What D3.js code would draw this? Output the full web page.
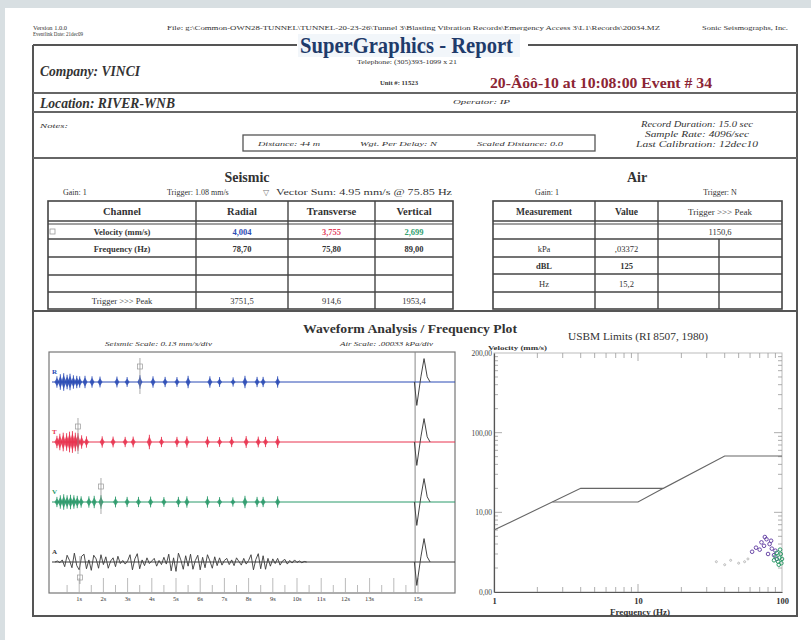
<!DOCTYPE html>
<html>
<head>
<meta charset="utf-8">
<script src="https://cdn.jsdelivr.net/npm/d3@7"></script>
<style>
  body { margin: 0; background: #fff; }
  svg { display: block; }
</style>
</head>
<body>
<script>
// ********************** DATA **********************
var seismicHeaders = ["Channel", "Radial", "Transverse", "Vertical"];
var velocityValues = ["4,004", "3,755", "2,699"];
var frequencyValues = ["78,70", "75,80", "89,00"];
var triggerPeakValues = ["3751,5", "914,6", "1953,4"];
var airHeaders = ["Measurement", "Value", "Trigger >>> Peak"];
var airTriggerPeak = "1150,6";
var airUnits = ["kPa", "dBL", "Hz"];
var airValues = [",03372", "125", "15,2"];

var channels = ["R", "T", "V", "A"];
// bursts on the geophone traces: [time (s), amplitude]
var rBursts = [[0.08,1.6],[0.22,2.4],[0.36,2.8],[0.5,2.2],[0.62,2.6],[0.76,2.0],[0.9,1.8],[1.02,1.6],[1.24,1.8],[1.53,1.6],[1.86,1.5],[2.56,1.5],[2.98,1.3],[3.51,2.0],[4.05,1.6],[4.55,1.4],[5.04,1.3],[5.5,1.8],[6.4,1.6],[6.8,1.3],[7.36,1.2],[7.85,1.8],[8.35,1.4],[8.6,1.4],[9.2,1.6]];
var tBursts = [[0.08,1.8],[0.2,2.6],[0.34,3.0],[0.48,2.8],[0.6,3.4],[0.72,3.6],[0.84,3.0],[0.95,2.8],[1.1,2.0],[1.3,1.6],[1.95,1.6],[2.4,1.5],[2.9,1.4],[3.23,1.5],[3.9,2.2],[4.4,1.4],[5.04,1.4],[5.45,1.6],[6.3,1.5],[6.8,1.3],[7.3,1.4],[7.9,1.7],[8.4,1.5],[8.7,1.4],[9.2,1.7]];
var vBursts = [[0.08,1.4],[0.22,2.0],[0.36,2.4],[0.5,2.0],[0.64,2.2],[0.78,2.0],[0.92,1.8],[1.08,1.6],[1.4,1.6],[1.62,1.8],[1.9,2.0],[2.5,1.5],[2.98,1.4],[3.45,1.4],[3.95,1.5],[4.5,1.3],[5.1,1.4],[5.45,1.6],[6.3,1.6],[6.8,1.3],[7.35,1.2],[7.85,1.8],[8.35,1.4],[8.6,1.4],[9.2,1.6]];
// microphone trace, one sample every 0.1 s from 0 s
var airTrace = [0,0.4,-0.3,0.8, -1.8,2.6,0.6,-2.2,
  3.4,-1.4,-3.0,2.2,3.0,-2.6,0.8,-3.2,2.6,1.2,-2.4,2.8,
  -1.0,2.0,-2.4,0.4,1.6,-1.8,2.2,-0.6, 0.6,-0.8,0.4,
  2.8,-3.0,1.2,3.2,-2.6, 0.8,-1.4,1.6,-0.6,0.4,1.4,-1.6,0.6,-1.0,1.8,-0.8,
  3.0,-3.4,1.6,-3.6,3.4,0.8,-2.8,
  2.4,-1.6,3.0,-2.8,0.6,2.6,-3.0,1.8,-2.2,2.8,0.4,-2.4,2.0,-1.4,1.6,
  -1.2,0.6,1.4,-1.0,0.8,-1.4,1.6,0.2,-1.2,1.4,-0.8,0.6,
  2.8,-3.0,1.0,3.2,-2.6,2.4,-2.8,1.4,
  -1.6,1.2,-0.6,1.4,-1.2,0.4,1.0,-0.8,0.6,-0.4,0.8,-0.2,0.4,-0.3,0.2,0];
var pulseTimes = [14.85, 14.95, 15.12, 15.25, 15.38, 15.5];
var pulseValues = [0, -9, 2, 9, 2, 0];
var peakTimes = [3.51, 0.95, 1.9, 1.03];
var secondLabels = [1,2,3,4,5,6,7,8,9,10,11,12,13,15];

// USBM limit curves: frequency (Hz) / velocity (mm/s)
var usbmHighFreq = [1, 4, 15, 40, 100];
var usbmHighVel = [6, 20, 20, 51, 51];
var usbmLowFreq = [2.55, 10, 15];
var usbmLowVel = [13.5, 13.5, 20];
var freqYTicks = [1, 10, 100, 1000];
var freqYLabels = ["0,00", "10,00", "100,00", "200,00"];
var freqXTicks = [1, 10, 100];
// peak particle velocity points
var purplePts = [[62,3.2],[66,3.6],[70,3.4],[72,4.2],[75,3.8],[78,4.6],[80,3.0],[82,4.0],[85,3.5],[88,2.9],[90,3.3],[92,2.6],[76,4.9],[84,4.4]];
var greenPts = [[88,2.5],[90,2.8],[92,3.1],[94,2.4],[96,2.7],[98,3.0],[100,2.6],[95,2.2],[99,2.3],[97,3.4]];
var greyPts = [[35,2.4],[40,2.2],[44,2.5],[50,2.3],[55,2.4],[58,2.6]];

// ********************** SVG **********************
var svg = d3.select("body").append("svg")
  .attr("width", 811)
  .attr("height", 640);

var serif = "'Liberation Serif', 'DejaVu Serif', serif";

function label(x, y, s, o) {
  o = o || {};
  var t = svg.append("text")
    .attr("x", x)
    .attr("y", y)
    .attr("text-anchor", o.anchor || "start")
    .text(s)
    .style("font-family", serif)
    .style("font-size", (o.size || 9) + "px")
    .style("fill", o.color || "#333");
  if (o.bold) t.style("font-weight", "bold");
  if (o.italic) t.style("font-style", "italic");
  if (o.len) t.attr("textLength", o.len).attr("lengthAdjust", "spacingAndGlyphs");
  return t;
}

function hline(x1, x2, y, w, c) {
  svg.append("line").attr("x1", x1).attr("x2", x2).attr("y1", y).attr("y2", y)
    .attr("stroke", c || "#555").attr("stroke-width", w || 1);
}
function vline(x, y1, y2, w, c) {
  svg.append("line").attr("x1", x).attr("x2", x).attr("y1", y1).attr("y2", y2)
    .attr("stroke", c || "#555").attr("stroke-width", w || 1);
}

// grey page surround
svg.append("rect").attr("x", 0).attr("y", 0).attr("width", 811).attr("height", 8).attr("fill", "#d8dfe2");
svg.append("rect").attr("x", 0).attr("y", 0).attr("width", 5).attr("height", 640).attr("fill", "#d8dfe2");

// ********************** HEADER **********************
label(33, 30, "Version 1.0.0", {size: 5.5, len: 34});
label(33, 36, "Eventlink Date: 21dec09", {size: 5.5, len: 50});
label(167, 30, "File: g:\\Common-OWN28-TUNNEL\\TUNNEL-20-23-26\\Tunnel 3\\Blasting Vibration Records\\Emergency Access 3\\L1\\Records\\20034.MZ", {size: 5.5, len: 493});
label(702, 30, "Sonic Seismographs, Inc.", {size: 5.5, len: 86});

svg.append("rect").attr("x", 298).attr("y", 34).attr("width", 222).attr("height", 23).attr("fill", "#f2f6fa");
label(300, 53, "SuperGraphics - Report", {size: 23, bold: true, color: "#1f3b6b", len: 213});
label(407, 64, "Telephone: (305)393-1099 x 21", {size: 5.5, anchor: "middle", len: 100});

// frame
svg.append("path")
  .attr("d", "M33,45H297 M528,45H797V616H33V45")
  .attr("fill", "none").attr("stroke", "#555").attr("stroke-width", 2);

label(40, 76, "Company: VINCI", {size: 14, bold: true, italic: true, len: 100});
label(380, 85, "Unit #: 11523", {size: 7, bold: true, len: 38});
label(490, 88, "20-Âôô-10 at 10:08:00 Event # 34", {size: 15, bold: true, color: "#8c2535", len: 222});
hline(33, 797, 93, 1.8, "#666");
label(40, 108, "Location: RIVER-WNB", {size: 14, bold: true, italic: true, len: 135});
label(453, 104, "Operator: IP", {size: 7, italic: true, len: 57});
hline(33, 797, 112, 1.8, "#666");
label(40, 128, "Notes:", {size: 7, italic: true, len: 28});

svg.append("rect").attr("x", 243).attr("y", 135).attr("width", 352).attr("height", 16)
  .attr("fill", "none").attr("stroke", "#555").attr("stroke-width", 1.3);
label(258, 146, "Distance: 44 m", {size: 7, italic: true, len: 62});
label(360, 146, "Wgt. Per Delay: N", {size: 7, italic: true, len: 77});
label(477, 146, "Scaled Distance: 0.0", {size: 7, italic: true, len: 86});

label(697, 127, "Record Duration: 15.0 sec", {size: 8, italic: true, anchor: "middle", len: 112});
label(697, 137, "Sample Rate: 4096/sec", {size: 8, italic: true, anchor: "middle", len: 104});
label(697, 147, "Last Calibration: 12dec10", {size: 8, italic: true, anchor: "middle", len: 122});
hline(33, 797, 158, 1.8, "#666");

// ********************** SEISMIC TABLE **********************
label(247, 182, "Seismic", {size: 14, bold: true, anchor: "middle"});
label(63, 195, "Gain: 1", {size: 8});
label(167, 195, "Trigger: 1.08  mm/s", {size: 8});
label(266, 195, "▽", {size: 8, anchor: "middle", color: "#777"});
label(276, 195, "Vector Sum: 4.95  mm/s @ 75.85 Hz", {size: 9, len: 176});

var sCols = [48, 196, 288, 375, 453];
var sRows = [201, 221, 239, 257, 275, 292, 309];

function drawGrid(cols, rows) {
  svg.append("rect").attr("x", cols[0]).attr("y", rows[0])
    .attr("width", cols[cols.length - 1] - cols[0]).attr("height", rows[rows.length - 1] - rows[0])
    .attr("fill", "none").attr("stroke", "#444").attr("stroke-width", 1.6);
  rows.slice(1, -1).forEach(function(y, i) {
    hline(cols[0], cols[cols.length - 1], y, 1.6, "#444");
    if (i === 0) hline(cols[0], cols[cols.length - 1], y + 3, 1.2, "#444");
  });
}
drawGrid(sCols, sRows);
sCols.slice(1, -1).forEach(function(x) { vline(x, sRows[0], sRows[6], 1.4, "#444"); });

function mid(a, b) { return (a + b) / 2; }
function rowY(rows, i) { return mid(rows[i] + (i === 1 ? 3 : 0), rows[i + 1]) + 3.5; }

seismicHeaders.forEach(function(h, i) {
  label(mid(sCols[i], sCols[i + 1]), rowY(sRows, 0) + 0.5, h, {size: 10.5, bold: true, anchor: "middle"});
});
svg.append("rect").attr("x", 50).attr("y", rowY(sRows, 1) - 6).attr("width", 5).attr("height", 5)
  .attr("fill", "none").attr("stroke", "#999").attr("stroke-width", 0.8);
label(122, rowY(sRows, 1), "Velocity (mm/s)", {size: 8.5, bold: true, anchor: "middle"});
var velColors = ["#2f4db3", "#e2415c", "#33a070"];
velocityValues.forEach(function(v, i) {
  label(mid(sCols[i + 1], sCols[i + 2]), rowY(sRows, 1), v, {size: 8.5, bold: true, anchor: "middle", color: velColors[i]});
});
label(122, rowY(sRows, 2), "Frequency (Hz)", {size: 8.5, bold: true, anchor: "middle"});
frequencyValues.forEach(function(v, i) {
  label(mid(sCols[i + 1], sCols[i + 2]), rowY(sRows, 2), v, {size: 8.5, bold: true, anchor: "middle"});
});
label(122, rowY(sRows, 5), "Trigger >>> Peak", {size: 8.5, anchor: "middle"});
triggerPeakValues.forEach(function(v, i) {
  label(mid(sCols[i + 1], sCols[i + 2]), rowY(sRows, 5), v, {size: 8.5, anchor: "middle"});
});

// ********************** AIR TABLE **********************
label(637, 182, "Air", {size: 14, bold: true, anchor: "middle"});
label(547, 195, "Gain: 1", {size: 8, anchor: "middle"});
label(720, 195, "Trigger: N", {size: 8, anchor: "middle"});

var aCols = [493, 595, 658, 719, 782];
var aRows = [201, 221, 239, 257, 274, 292, 309];
drawGrid(aCols, aRows);
vline(aCols[1], aRows[0], aRows[6], 1.4, "#444");
vline(aCols[2], aRows[0], aRows[6], 1.4, "#444");
vline(aCols[3], aRows[2], aRows[6], 1.4, "#444");

label(mid(aCols[0], aCols[1]), rowY(aRows, 0), airHeaders[0], {size: 9.5, bold: true, anchor: "middle"});
label(mid(aCols[1], aCols[2]), rowY(aRows, 0), airHeaders[1], {size: 9.5, bold: true, anchor: "middle"});
label(mid(aCols[2], aCols[4]), rowY(aRows, 0), airHeaders[2], {size: 9, anchor: "middle"});
label(mid(aCols[2], aCols[4]), rowY(aRows, 1), airTriggerPeak, {size: 8.5, anchor: "middle"});
airUnits.forEach(function(u, i) {
  var b = (u === "dBL");
  label(mid(aCols[0], aCols[1]), rowY(aRows, i + 2), u, {size: 8.5, bold: b, anchor: "middle"});
  label(mid(aCols[1], aCols[2]), rowY(aRows, i + 2), airValues[i], {size: 8.5, bold: b, anchor: "middle"});
});

hline(33, 797, 311, 1.8, "#555");

// ********************** WAVEFORMS **********************
label(410, 333, "Waveform Analysis / Frequency Plot", {size: 13.5, bold: true, anchor: "middle", len: 214});
label(105, 346, "Seismic Scale: 0.13 mm/s/div", {size: 6.5, italic: true, len: 107});
label(340, 346, "Air Scale: .00033 kPa/div", {size: 6.5, italic: true, len: 93});

var wBox = {x0: 49, x1: 455, y0: 352, y1: 593};
svg.append("rect").attr("x", wBox.x0).attr("y", wBox.y0)
  .attr("width", wBox.x1 - wBox.x0).attr("height", wBox.y1 - wBox.y0)
  .attr("fill", "none").attr("stroke", "#777").attr("stroke-width", 1.2);

var xSec = d3.scaleLinear().domain([0, 15]).range([55, 418]);
var yChan = d3.scalePoint().domain(channels).range([382, 562]);
var amp = 2.6;
var chanColors = {R: "#2a4bb5", T: "#e8334f", V: "#2b9a6b", A: "#3a3a3a"};
var burstSets = {R: rBursts, T: tBursts, V: vBursts};

vline(xSec(14.88), wBox.y0, wBox.y1, 1, "#888");

// time ticks
var tickTimes = d3.range(0.5, 15.01, 0.5);
svg.append("g").selectAll("line").data(tickTimes).enter().append("line")
  .attr("x1", function(d) { return xSec(d); })
  .attr("x2", function(d) { return xSec(d); })
  .attr("y1", wBox.y1)
  .attr("y2", function(d) { return wBox.y1 - (d % 1 === 0 ? 15 : 8); })
  .attr("stroke", "#aaa").attr("stroke-width", 0.8);
secondLabels.forEach(function(s) {
  label(xSec(s), 601, s + "s", {size: 6.5, anchor: "middle"});
});

var pulseLine = d3.line()
  .x(function(d) { return xSec(d[0]); })
  .y(function(d) { return d[1]; });

channels.forEach(function(c, ci) {
  var base = yChan(c);
  var col = chanColors[c];
  // base line across the box
  hline(wBox.x0 + 3, wBox.x1, base, 1, col);
  label(52, base - 8, c, {size: 7, bold: true, color: col});

  if (burstSets[c]) {
    burstSets[c].forEach(function(b) {
      var x = xSec(b[0]), h = b[1] * amp;
      svg.append("path")
        .attr("d", "M" + (x - 2.5) + "," + base + "L" + x + "," + (base - h) + "L" + (x + 2.5) + "," + base + "L" + x + "," + (base + h) + "Z")
        .attr("fill", col).attr("opacity", 0.85);
      vline(x, base - h - 1.5, base + h + 1.5, 0.9, col);
    });
  } else {
    var pts = airTrace.map(function(v, i) { return [i * 0.1, base - v * amp]; });
    svg.append("path").attr("d", pulseLine(pts))
      .attr("fill", "none").attr("stroke", col).attr("stroke-width", 0.9);
  }

  // peak marker
  var px = xSec(peakTimes[ci]);
  var up = (c !== "A");
  vline(px, up ? base - 24 : base - 6, up ? base + 12 : base + 22, 0.7, "#888");
  svg.append("rect").attr("x", px - 2.5).attr("y", up ? base - 18 : base + 13)
    .attr("width", 5).attr("height", 5)
    .attr("fill", "none").attr("stroke", "#999").attr("stroke-width", 0.7);

  // calibration pulse
  var pp = pulseTimes.map(function(t, i) { return [t, base - pulseValues[i] * amp]; });
  svg.append("path").attr("d", pulseLine(pp))
    .attr("fill", "none").attr("stroke", "#444").attr("stroke-width", 1)
    .attr("stroke-linejoin", "round");
});

// ********************** FREQUENCY PLOT **********************
var xF = d3.scaleLog().domain([1, 100]).range([494, 782]);
var yF = d3.scaleLog().domain([1, 1000]).range([592, 353]);

label(638, 340, "USBM Limits (RI 8507, 1980)", {size: 10, anchor: "middle", len: 140});
label(488, 350, "Velocity (mm/s)", {size: 7, bold: true, len: 59});

// light frame
svg.append("rect").attr("x", 494).attr("y", 353).attr("width", 288).attr("height", 239)
  .attr("fill", "none").attr("stroke", "#bbb").attr("stroke-width", 1);

var minorX = [2,3,4,5,6,7,8,9,20,30,40,50,60,70,80,90];
var minorY = [2,3,4,5,6,7,8,9,20,30,40,50,60,70,80,90,200,300,400,500,600,700,800,900];
minorX.concat([10]).forEach(function(f) {
  var len = f === 10 ? 8 : 5;
  vline(xF(f), 353, 353 + len, 0.8, "#999");
  vline(xF(f), 592, 592 - len, 0.8, "#999");
});
minorY.concat([10, 100]).forEach(function(v) {
  var len = (v === 10 || v === 100) ? 8 : 4;
  hline(494, 494 + len, yF(v), 0.8, "#999");
  hline(782 - len, 782, yF(v), 0.8, "#999");
});

svg.append("g").attr("transform", "translate(494,0)")
  .call(d3.axisLeft(yF).tickValues(freqYTicks).tickSize(0).tickPadding(2)
    .tickFormat(function(d, i) { return freqYLabels[i]; }))
  .call(function(g) {
    g.select(".domain").attr("stroke", "#555").attr("stroke-width", 1.2);
    g.selectAll("text").style("font-family", serif).style("font-size", "7.5px").attr("fill", "#444");
  });
svg.append("g").attr("transform", "translate(0,592)")
  .call(d3.axisBottom(xF).tickValues(freqXTicks).tickSize(0).tickPadding(6)
    .tickFormat(function(d) { return d; }))
  .call(function(g) {
    g.select(".domain").attr("stroke", "#555").attr("stroke-width", 1.2);
    g.selectAll("text").style("font-family", serif).style("font-size", "8.5px").style("font-weight", "bold").attr("fill", "#333");
  });
label(640, 615, "Frequency (Hz)", {size: 8, bold: true, anchor: "middle", len: 60});

var usbmLine = d3.line()
  .x(function(d) { return xF(d[0]); })
  .y(function(d) { return yF(d[1]); });
svg.append("path").attr("d", usbmLine(usbmHighFreq.map(function(f, i) { return [f, usbmHighVel[i]]; })))
  .attr("fill", "none").attr("stroke", "#666").attr("stroke-width", 1.1);
svg.append("path").attr("d", usbmLine(usbmLowFreq.map(function(f, i) { return [f, usbmLowVel[i]]; })))
  .attr("fill", "none").attr("stroke", "#666").attr("stroke-width", 1.1);

function drawPts(pts, col, r) {
  svg.append("g").selectAll("circle").data(pts).enter().append("circle")
    .attr("cx", function(d) { return xF(d[0]); })
    .attr("cy", function(d) { return yF(d[1]); })
    .attr("r", r)
    .attr("fill", "none").attr("stroke", col).attr("stroke-width", 1);
}
drawPts(greyPts, "#bbb", 1);
drawPts(purplePts, "#6b49a8", 1.8);
drawPts(greenPts, "#2e9a68", 1.8);
</script>
</body>
</html>
